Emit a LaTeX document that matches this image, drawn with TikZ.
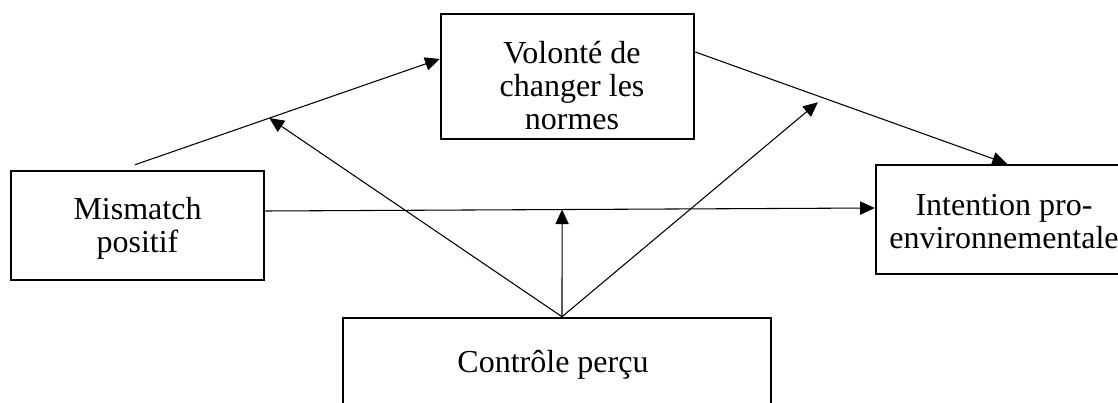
\documentclass[tikz,border=0pt]{standalone}
\usepackage{fontspec}
\setmainfont{Liberation Serif}
\usetikzlibrary{arrows.meta,calc}
\begin{document}
\begin{tikzpicture}[x=0.75pt,y=-0.75pt,
  box/.style={draw,line width=1.9pt,inner sep=0pt},
  lbl/.style={font=\fontsize{24pt}{24.5pt}\selectfont,align=center,anchor=base,inner sep=0pt},
  conn/.style={line width=0.8pt,-{Triangle[length=11pt,width=10pt]}}]
\useasboundingbox (0,0) rectangle (1118,403);
\clip (0,0) rectangle (1118,403);
% boxes
\node[box,minimum width=253*0.75pt,minimum height=125*0.75pt] (vol) at (567.5,76.5) {};
\node[box,minimum width=253*0.75pt,minimum height=109*0.75pt] (mm) at (137.5,225.5) {};
\node[box,minimum width=256*0.75pt,minimum height=109*0.75pt] (int) at (1004,219.5) {};
\node[box,minimum width=428*0.75pt,minimum height=94*0.75pt] (ctl) at (557,365) {};
% texts (anchored at the baseline of the last line)
\node[lbl] (volt) at (572,129) {Volonté de\\changer les\\normes};
\node[lbl] (mmt) at (137.5,252) {Mismatch\\positif};
\node[lbl] (intt) at (1004,248) {Intention pro-\\environnementale};
\node[lbl] (ctlt) at (553,372) {Contrôle perçu};
% connectors
\draw[conn] ($(mm.north)+(-2.5,-5)$) -- node[coordinate,pos=0.441] (m1) {} ($(vol.west)+(0,-17.5)$);
\draw[conn] ($(vol.east)+(0,-24.5)$) -- node[coordinate,pos=0.387] (m2) {} ($(int.north)+(3,0)$);
\draw[conn] ($(mm.east)+(0,-14.5)$) -- node[coordinate,pos=0.487] (m3) {} ($(int.west)+(0,-11.5)$);
\coordinate (src) at ($(ctl.north)+(5,0)$);
\draw[conn] (src) -- (m1);
\draw[conn] (src) -- (m3);
\draw[conn] (src) -- ($(m2)+(2,7)$);
\end{tikzpicture}
\end{document}
